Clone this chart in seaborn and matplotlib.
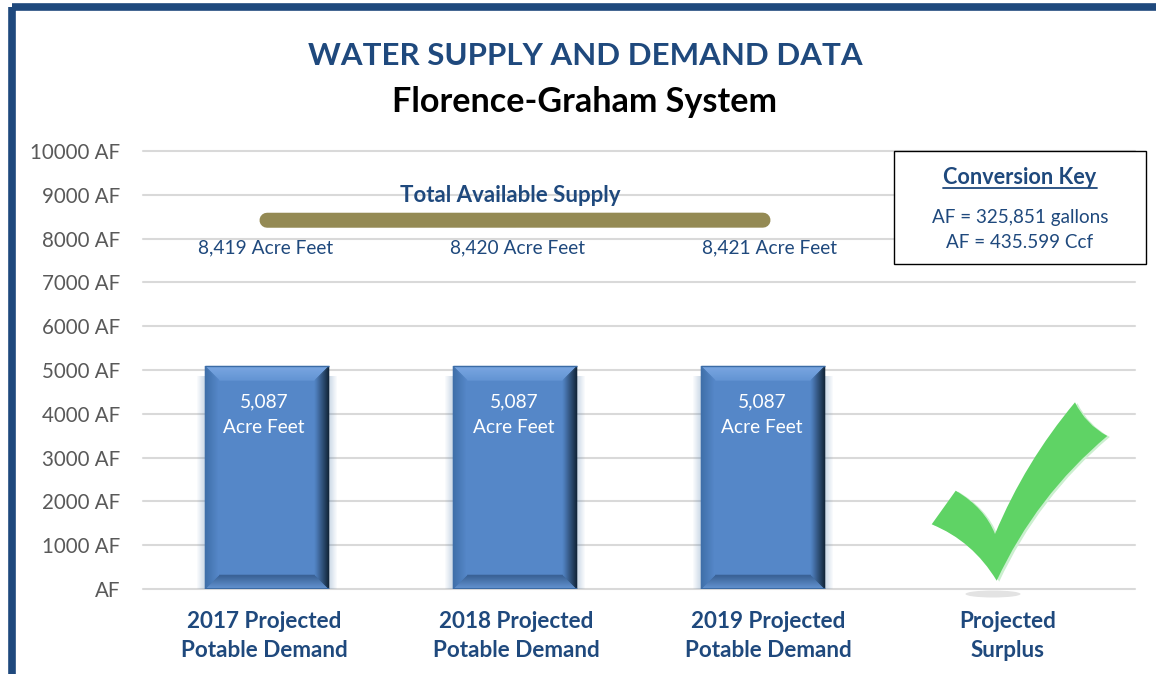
import matplotlib
matplotlib.use('Agg')
import matplotlib.pyplot as plt
import matplotlib.colors as mcolors
from matplotlib.patches import Rectangle, Ellipse, PathPatch
from matplotlib.path import Path
from matplotlib.transforms import Affine2D, ScaledTranslation
import numpy as np
import seaborn as sns

categories = ['2017 Projected\nPotable Demand', '2018 Projected\nPotable Demand',
              '2019 Projected\nPotable Demand', 'Projected\nSurplus']
demand = [5087, 5087, 5087, np.nan]
supply = [8419, 8420, 8421]
supply_labels = ['8,419 Acre Feet', '8,420 Acre Feet', '8,421 Acre Feet']
demand_labels = ['5,087\nAcre Feet', '5,087\nAcre Feet', '5,087\nAcre Feet']
y_ticks = [0, 1000, 2000, 3000, 4000, 5000, 6000, 7000, 8000, 9000, 10000]
y_tick_labels = ['AF', '1000 AF', '2000 AF', '3000 AF', '4000 AF', '5000 AF',
                 '6000 AF', '7000 AF', '8000 AF', '9000 AF', '10000 AF']

W, H = 1156, 674
NAVY = '#1F497D'
FONT = 'Lato'


def blend(c1, c2, t):
    a, b = np.array(mcolors.to_rgb(c1)), np.array(mcolors.to_rgb(c2))
    return tuple(a + (b - a) * t)


# draws the office style bevel over one bar, sizes given in pixels
def add_bevel(ax, bar, dx, dy, size=14):
    x0, x1 = bar.get_x(), bar.get_x() + bar.get_width()
    y0, y1 = bar.get_y(), bar.get_y() + bar.get_height()

    # pale glow at both sides
    for k in range(8):
        alpha = 0.28 * (1 - k / 8)
        for xa, xb in [(x0 - (k + 1) * dx, x0 - k * dx), (x1 + k * dx, x1 + (k + 1) * dx)]:
            ax.fill([xa, xb, xb, xa], [y0, y0, y1 - 10 * dy, y1 - 10 * dy],
                    color='#4F7CAC', alpha=alpha, lw=0, zorder=2)

    sides = {'top': ('#7CA8E2', '#6596D5'), 'left': ('#3F6FA9', '#5587C8'),
             'right': ('#12263A', '#4F80BE'), 'bottom': ('#6495D2', '#3A6296')}
    for t in range(size):
        a0, b0 = x0 + t * dx, x1 - t * dx
        a1, b1 = x0 + (t + 1) * dx, x1 - (t + 1) * dx
        c0, d0 = y0 + t * dy, y1 - t * dy
        c1, d1 = y0 + (t + 1) * dy, y1 - (t + 1) * dy
        polys = {'top': ([a0, b0, b1, a1], [d0, d0, d1, d1]),
                 'bottom': ([a0, b0, b1, a1], [c0, c0, c1, c1]),
                 'left': ([a0, a1, a1, a0], [c0, c1, d1, d0]),
                 'right': ([b0, b1, b1, b0], [c0, c1, d1, d0])}
        for side, (xs, ys) in polys.items():
            col = blend(sides[side][0], sides[side][1], t / (size - 1))
            ax.fill(xs, ys, color=col, lw=0.4, zorder=3)
    ax.plot([x0, x1], [y1, y1], color='#3B6BA5', lw=1, zorder=3, solid_capstyle='butt')
    ax.plot([x0, x1], [y0, y0], color='#3B6BA5', lw=1.5, zorder=3, solid_capstyle='butt')


sns.set_theme(style='whitegrid')
plt.rcParams['font.family'] = [FONT, 'DejaVu Sans']

fig = plt.figure(figsize=(W / 100, H / 100), dpi=100)
ax = fig.add_axes([143 / W, (H - 589) / H, 992 / W, 438 / H])

# everything outside the data area is placed in reference pixels
px = Affine2D().scale(1 / W, -1 / H).translate(0, 1) + fig.transFigure

sns.barplot(x=categories, y=demand, order=categories, color='#5587C8', saturation=1,
            width=0.5, linewidth=0, ax=ax)
sns.lineplot(x=range(len(supply)), y=supply, color='#948A54', lw=10.8, errorbar=None,
             solid_capstyle='round', zorder=4, ax=ax)

ax.set_xlim(-0.5, 3.5)
ax.set_ylim(0, 10000)
ax.set_yticks(y_ticks)
ax.set_yticklabels(y_tick_labels, fontsize=14.8, color='#595959')
ax.set_xlabel('')
ax.set_ylabel('')
ax.grid(False, axis='x')
ax.grid(True, axis='y', color='#D9D9D9', lw=1.5, clip_on=False)
ax.tick_params(axis='y', length=0, pad=16.5)
ax.tick_params(axis='x', length=0, pad=15.5)
for s in ax.spines.values():
    s.set_visible(False)

# tick labels do not sit quite under the bars in the original
for lab, off in zip(ax.get_xticklabels(), [-3, 1, 5, -3]):
    lab.set_fontsize(16.2)
    lab.set_fontweight('bold')
    lab.set_color(NAVY)
    lab.set_linespacing(1.5)
    lab.set_transform(lab.get_transform() + ScaledTranslation(off / 100, 0, fig.dpi_scale_trans))

dx = 4 / 992
dy = 10000 / 438
for bar in ax.patches:
    if bar.get_height() > 0:
        add_bevel(ax, bar, dx, dy)

for i, (lab, off) in enumerate(zip(demand_labels, [-3, -1, -1])):
    ax.text(i + off * dx, 3985, lab, color='white', fontsize=13.8, ha='center', va='center',
            linespacing=1.6, zorder=6)

ax.text(1 - 5 * dx, 8985, 'Total Available Supply', color=NAVY, fontsize=16, fontweight='bold',
        ha='center', va='center', zorder=6)

for x, lab in zip([266, 518, 770], supply_labels):
    fig.text(x, 248, lab, transform=px, color=NAVY, fontsize=13.8, ha='center', va='center')

# frame of the slide
fig.add_artist(Rectangle((12, 6.5), 1400, 1000, transform=px, fill=False, ec=NAVY, lw=5.5,
                         joinstyle='round'))

fig.text(585, 56, 'WATER SUPPLY AND DEMAND DATA', transform=px, color=NAVY, fontsize=22.5,
         fontweight='bold', ha='center', va='center')
fig.text(585, 102, 'Florence-Graham System', transform=px, color='black', fontsize=24.6,
         fontweight='bold', ha='center', va='center')

# conversion key box
fig.add_artist(Rectangle((894, 151), 252, 113, transform=px, fc='white', ec='black', lw=1, zorder=5))
fig.text(1020, 178, 'Conversion Key', transform=px, color=NAVY, fontsize=15.6,
         fontweight='bold', ha='center', va='center', zorder=6)
fig.add_artist(plt.Line2D([943, 1097], [188, 188], transform=px, color=NAVY, lw=1.3, zorder=6))
fig.text(1020, 218, 'AF = 325,851 gallons', transform=px, color=NAVY, fontsize=13.6,
         ha='center', va='center', zorder=6)
fig.text(1020, 243, 'AF = 435.599 Ccf', transform=px, color=NAVY, fontsize=13.6,
         ha='center', va='center', zorder=6)

# check mark, a drawn shape in the original
check_verts = [(931.7, 524.3), (972.7, 541), (996.7, 580.7), (1036, 496), (1107.3, 436),
               (1085.7, 424.3), (1075, 402.3), (1025, 462), (995, 534), (984.7, 507.7),
               (955.7, 490.7), (931.7, 524.3)]
check_codes = [Path.MOVETO, Path.CURVE3, Path.CURVE3, Path.CURVE3, Path.CURVE3,
               Path.CURVE3, Path.CURVE3, Path.CURVE3, Path.CURVE3, Path.CURVE3,
               Path.CURVE3, Path.LINETO]
check = Path(check_verts, check_codes)
fig.add_artist(Ellipse((993, 594), 55, 7, transform=px, fc='#E3E3E3', ec='none', zorder=4))
shift = Affine2D().translate(2.5, 1)
fig.add_artist(PathPatch(check, transform=shift + px, fc='#CBEFCF', ec='none', zorder=4))
fig.add_artist(PathPatch(check, transform=px, fc='#5FD365', ec='none', zorder=5))

fig.savefig('out.png', dpi=100)
